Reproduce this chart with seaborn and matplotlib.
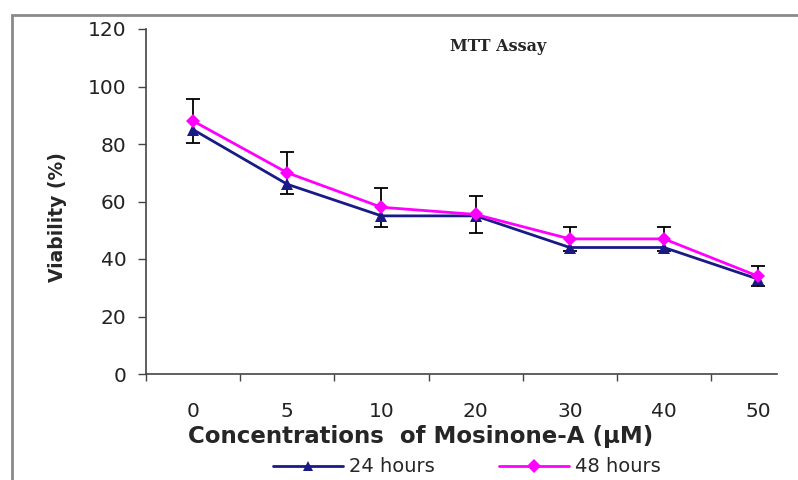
import numpy as np
import pandas as pd
import matplotlib
matplotlib.use("Agg")
import matplotlib.pyplot as plt
from matplotlib.patches import Rectangle
import seaborn as sns

# Data
concentrations = ["0", "5", "10", "20", "30", "40", "50"]
viability_24h = [85, 66, 55, 55, 44, 44, 33]
viability_48h = [88, 70, 58, 55.5, 47, 47, 34]
err_48h = [7.7, 7.3, 6.8, 6.5, 4.3, 4.3, 3.4]

pos = np.arange(len(concentrations))
df = pd.DataFrame({
    "pos": np.concatenate([pos, pos]),
    "viability": viability_24h + viability_48h,
    "time": ["24 hours"] * len(pos) + ["48 hours"] * len(pos),
})

sns.set_style("white")
plt.rcParams["font.family"] = ["DejaVu Sans"]

fig = plt.figure(figsize=(7.98, 4.8), dpi=100)
ax = fig.add_axes([146 / 798, 106 / 480, (777 - 146) / 798, (374 - 29) / 480])

# error bars behind the lines
ax.errorbar(pos, viability_48h, yerr=err_48h, fmt="none", ecolor="black",
            elinewidth=1.3, capsize=5, capthick=1.3, zorder=1)

sns.lineplot(data=df, x="pos", y="viability", hue="time", style="time",
             palette={"24 hours": "#1a1a86", "48 hours": "#ff00ff"},
             markers={"24 hours": "^", "48 hours": "D"}, dashes=False,
             markersize=9, markeredgewidth=0, linewidth=2, ax=ax, zorder=3)
# diamonds a little smaller than the triangles
for ln in ax.lines:
    if ln.get_marker() == "D":
        ln.set_markersize(7.5)

ax.set_xlim(-0.5, 6.2)
ax.set_ylim(0, 120)
ax.set_yticks(range(0, 121, 20))
ax.set_xticks(pos)
ax.set_xticklabels(concentrations)
ax.set_xticks(np.arange(-0.5, 6, 1), minor=True)
ax.tick_params(axis="x", which="major", length=0, pad=20, labelsize=14.5, labelcolor="#222222")
ax.tick_params(axis="x", which="minor", direction="out", length=5, width=1, color="#444444", bottom=True)
ax.tick_params(axis="y", direction="out", length=6, width=1, color="#444444", left=True,
               labelsize=14.5, labelcolor="#222222", pad=8)

for s in ["top", "right"]:
    ax.spines[s].set_visible(False)
for s in ["left", "bottom"]:
    ax.spines[s].set_color("#444444")
    ax.spines[s].set_linewidth(1.2)

ax.set_xlabel("Concentrations  of Mosinone-A (\u00b5M)", fontsize=16.5, fontweight="bold")
ax.xaxis.set_label_coords((421 - 146) / 631, (374 - 437) / 345)
ax.xaxis.label.set_va("center")
ax.set_ylabel("Viability (%)", fontsize=13.5, fontweight="bold")
ax.yaxis.set_label_coords((57 - 146) / 631, (374 - 217) / 345)
ax.yaxis.label.set_va("center")

ax.text((498 - 146) / 631, 0.95, "MTT Assay", transform=ax.transAxes, ha="center", va="center",
        fontsize=11.5, fontweight="bold", family="DejaVu Serif")

handles, labels = ax.get_legend_handles_labels()
leg = ax.legend(handles, labels, loc="center", bbox_to_anchor=(467 / 798, 13 / 480),
                bbox_transform=fig.transFigure, ncol=2, frameon=False, fontsize=14,
                columnspacing=3.3, handlelength=3.6, handletextpad=0.3, borderpad=0)
for h in leg.legend_handles:
    h.set_markersize(7)

# grey frame around the picture (left and top visible)
fig.patches.append(Rectangle((12 / 798, -0.2), 1.2, (465 / 480) + 0.2,
                             transform=fig.transFigure, fill=False,
                             edgecolor="#8a8a8a", linewidth=2))

fig.savefig("out.png", dpi=100)
